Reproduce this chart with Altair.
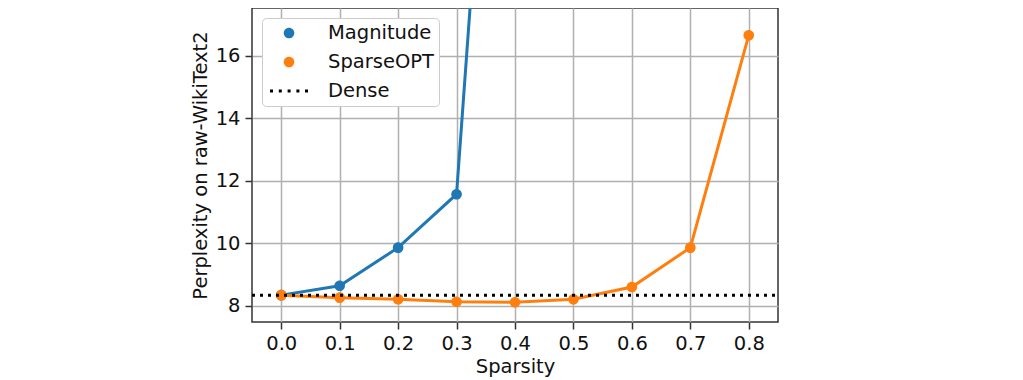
import altair as alt
import pandas as pd

sparsity = [0.0, 0.1, 0.2, 0.3, 0.4, 0.5, 0.6, 0.7, 0.8]
magnitude = [8.34, 8.64, 9.86, 11.57, 37.4]
sparseopt = [8.34, 8.26, 8.21, 8.13, 8.11, 8.21, 8.60, 9.86, 16.66]
dense = 8.34
series_names = ["Magnitude", "SparseOPT", "Dense"]
series_colors = ["#1f77b4", "#ff7f0e", "#000000"]
x_ticks = [0.0, 0.1, 0.2, 0.3, 0.4, 0.5, 0.6, 0.7, 0.8]
y_ticks = [8, 10, 12, 14, 16]
x_domain = [-0.05, 0.85]
y_domain = [7.48, 17.53]

rows = []
for x, v in zip(sparsity, magnitude):
    rows.append({"sparsity": x, "ppl": v, "series": "Magnitude"})
for x, v in zip(sparsity, sparseopt):
    rows.append({"sparsity": x, "ppl": v, "series": "SparseOPT"})
df = pd.DataFrame(rows)
dense_df = pd.DataFrame({"ppl": [dense], "series": ["Dense"],
                         "x0": [x_domain[0]], "x1": [x_domain[1]]})

# legend symbol paths (unit = half the legend symbol side)
circle = "M0.67,0A0.53,0.53 0 1,0 1.73,0A0.53,0.53 0 1,0 0.67,0Z"
dots = " ".join(
    f"M{x0:.3f},-0.15h0.3v0.3h-0.3Z" for x0 in [-0.7, 0.18, 1.06, 1.94, 2.8]
)
shapes = [circle, circle, dots]

FS = 19.5
xs = alt.X("sparsity:Q", scale=alt.Scale(domain=x_domain, nice=False, zero=False),
           axis=alt.Axis(values=x_ticks, format=".1f", title="Sparsity"))
ys = alt.Y("ppl:Q", scale=alt.Scale(domain=y_domain, nice=False, zero=False),
           axis=alt.Axis(values=y_ticks, title="Perplexity on raw-WikiText2"))

color_scale = alt.Scale(domain=series_names, range=series_colors)
shape_scale = alt.Scale(domain=series_names, range=shapes)

legend = alt.Legend(
    title=None, orient="none", legendX=10, legendY=10,
    symbolSize=400, symbolStrokeWidth=0, labelFontSize=FS, labelColor="#111",
    labelFont="DejaVu Sans", fillColor="white", strokeColor="#cccccc",
    cornerRadius=4, padding=5, rowPadding=9, labelOffset=41,
)

lines = alt.Chart(df).mark_line(strokeWidth=3, clip=True).encode(
    x=xs, y=ys,
    color=alt.Color("series:N", scale=color_scale, legend=legend),
    detail="series:N",
)

points = alt.Chart(df).mark_point(filled=True, opacity=1, size=400, clip=True).encode(
    x=xs, y=ys,
    color=alt.Color("series:N", scale=color_scale, legend=legend),
    shape=alt.Shape("series:N", scale=shape_scale, legend=legend),
    xOffset=alt.value(-12),
)

rule = alt.Chart(dense_df).mark_rule(strokeWidth=3, strokeDash=[3, 5], color="black", clip=True).encode(
    x=alt.X("x0:Q", scale=alt.Scale(domain=x_domain, nice=False, zero=False)),
    x2="x1:Q",
    y=alt.Y("ppl:Q", scale=alt.Scale(domain=y_domain, nice=False, zero=False)),
)

chart = alt.layer(lines, points, rule).properties(
    width=526, height=314,
    autosize=alt.AutoSizeParams(type="none"),
    padding={"left": 244, "top": 0, "right": 237, "bottom": 66},
).configure_view(
    stroke="#333333", strokeWidth=1.5
).configure_axis(
    labelFont="DejaVu Sans", titleFont="DejaVu Sans",
    labelFontSize=FS, titleFontSize=FS, titleFontWeight="normal",
    labelColor="#111", titleColor="#111",
    grid=True, gridColor="#b0b0b0", gridWidth=1.5,
    domain=False, tickColor="#333", tickSize=7, tickWidth=1.5,
    labelPadding=5,
).configure_axisY(
    titlePadding=5,
).configure_axisX(
    titlePadding=5,
)

chart.save("out.html", embed_options={"renderer": "svg", "actions": False})
